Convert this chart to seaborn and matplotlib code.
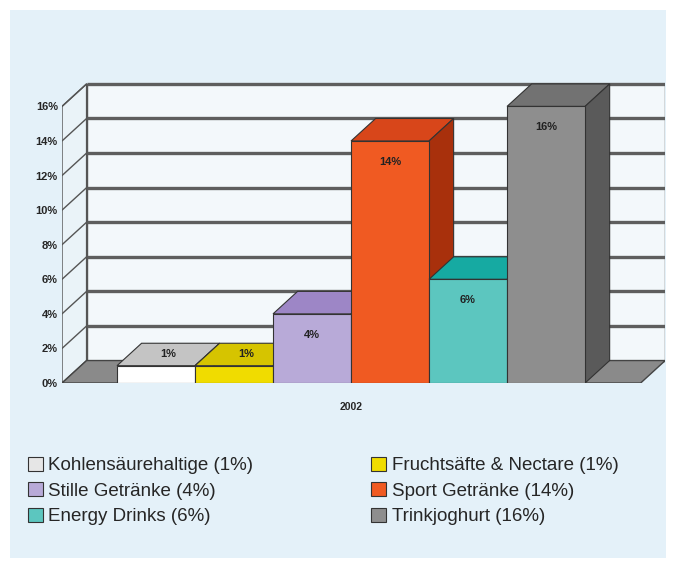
import matplotlib
matplotlib.use("Agg")
import matplotlib.pyplot as plt
import seaborn as sns
import pandas as pd
from matplotlib.patches import Polygon, Rectangle, Patch

# ---- data ----
categories = ["Kohlensäurehaltige", "Fruchtsäfte & Nectare", "Stille Getränke",
              "Sport Getränke", "Energy Drinks", "Trinkjoghurt"]
values = [1, 1, 4, 14, 6, 16]
year = "2002"
y_ticks = [0, 2, 4, 6, 8, 10, 12, 14, 16]
legend_order = [0, 2, 4, 1, 3, 5]

# ---- style ----
front_colors = ["#ffffff", "#f0dc00", "#b8aad8", "#f05a22", "#5cc6bf", "#8e8e8e"]
top_colors = ["#c4c4c4", "#d6c400", "#9d86c6", "#d8461a", "#16aaa2", "#727272"]
side_colors = ["#a8a8a8", "#b8a800", "#7d66a8", "#a8300c", "#0e8a84", "#5a5a5a"]

sns.set_theme(style="white")
plt.rcParams['font.family'] = ['Liberation Sans', 'DejaVu Sans']

fig = plt.figure(figsize=(6.74, 5.72), dpi=100, facecolor="white")
bg = Rectangle((10 / 674, 14 / 572), 656 / 674, 548 / 572,
               transform=fig.transFigure, facecolor="#e4f1f9",
               edgecolor="none", zorder=-10)
fig.patches.append(bg)

ax = fig.add_axes([0.092, 0.3304, 0.895, 0.538])
ax.set_facecolor("none")
ax.set_zorder(1)

df = pd.DataFrame({"year": [year] * len(categories), "cat": categories, "val": values})
sns.barplot(data=df, x="year", y="val", hue="cat", hue_order=categories,
            palette=front_colors, width=0.8, dodge=True, saturation=1,
            ax=ax, legend=False, edgecolor="#333333", linewidth=0.8, errorbar=None)

xL, xR = -0.494, 0.537
dx, dy = 0.042, 1.3
ymax_wall = max(y_ticks)

bars = sorted([p for p in ax.patches if isinstance(p, Rectangle)], key=lambda p: p.get_x())

# walls and floor
ax.add_patch(Polygon([(xL + dx, dy), (xR, dy), (xR, ymax_wall + dy), (xL + dx, ymax_wall + dy)],
                     closed=True, facecolor="#f3f8fb", edgecolor="#555555", lw=1, zorder=1))
ax.add_patch(Polygon([(xL, 0), (xL + dx, dy), (xL + dx, ymax_wall + dy), (xL, ymax_wall)],
                     closed=True, facecolor="#eaf3f8", edgecolor="#555555", lw=1, zorder=1))
ax.add_patch(Polygon([(xL, 0), (xR - dx, 0), (xR, dy), (xL + dx, dy)],
                     closed=True, facecolor="#8a8a8a", edgecolor="#444444", lw=1, zorder=2))
for t in y_ticks[1:]:
    ax.plot([xL + dx, xR], [t + dy, t + dy], color="#5e5e5e", lw=2.4, zorder=1.5,
            solid_capstyle="butt")
    ax.plot([xL, xL + dx], [t, t + dy], color="#555555", lw=1, zorder=1.5)

# 3D faces for bars
for i, b in enumerate(bars):
    x0, w, h = b.get_x(), b.get_width(), b.get_height()
    b.set_zorder(3 + i + 0.3)
    ax.add_patch(Polygon([(x0, h), (x0 + w, h), (x0 + w + dx, h + dy), (x0 + dx, h + dy)],
                         closed=True, facecolor=top_colors[i], edgecolor="#333333",
                         lw=0.8, zorder=3 + i))
    ax.add_patch(Polygon([(x0 + w, 0), (x0 + w + dx, dy), (x0 + w + dx, h + dy), (x0 + w, h)],
                         closed=True, facecolor=side_colors[i], edgecolor="#333333",
                         lw=0.8, zorder=3 + i))
    v = values[i]
    if v < 2:
        ty = h + dy * 0.5
        tx = x0 + w / 2 + dx / 2
    else:
        ty = h - 1.2
        tx = x0 + w / 2
    ax.text(tx, ty, f"{v}%", ha="center", va="center", fontsize=8,
            fontweight="bold", color="#222222", zorder=20)

ax.set_xlim(xL, xR)
ax.set_ylim(0, 17.8)
ax.set_yticks(y_ticks, labels=[f"{t}%" for t in y_ticks])
ax.tick_params(axis="y", length=0, pad=3, labelsize=8)
ax.tick_params(axis="x", length=0, pad=14, labelsize=7.5)
for lab in ax.get_yticklabels() + ax.get_xticklabels():
    lab.set_fontweight("bold")
ax.set_xlabel("")
ax.set_ylabel("")
for s in ax.spines.values():
    s.set_visible(False)

handles = [Patch(facecolor=front_colors[i] if i else "#e6e6e6", edgecolor="#333333", lw=0.8)
           for i in legend_order]
labels = [f"{categories[i]} ({values[i]}%)" for i in legend_order]
fig.legend(handles, labels, loc="upper left", bbox_to_anchor=(20 / 674, 1 - 449 / 572),
           ncol=2, frameon=False, fontsize=13.5, handlelength=0.8, handleheight=0.8,
           handletextpad=0.3, columnspacing=6.3, labelspacing=0.42, borderaxespad=0)

fig.savefig("out.png", dpi=100, facecolor=fig.get_facecolor())
